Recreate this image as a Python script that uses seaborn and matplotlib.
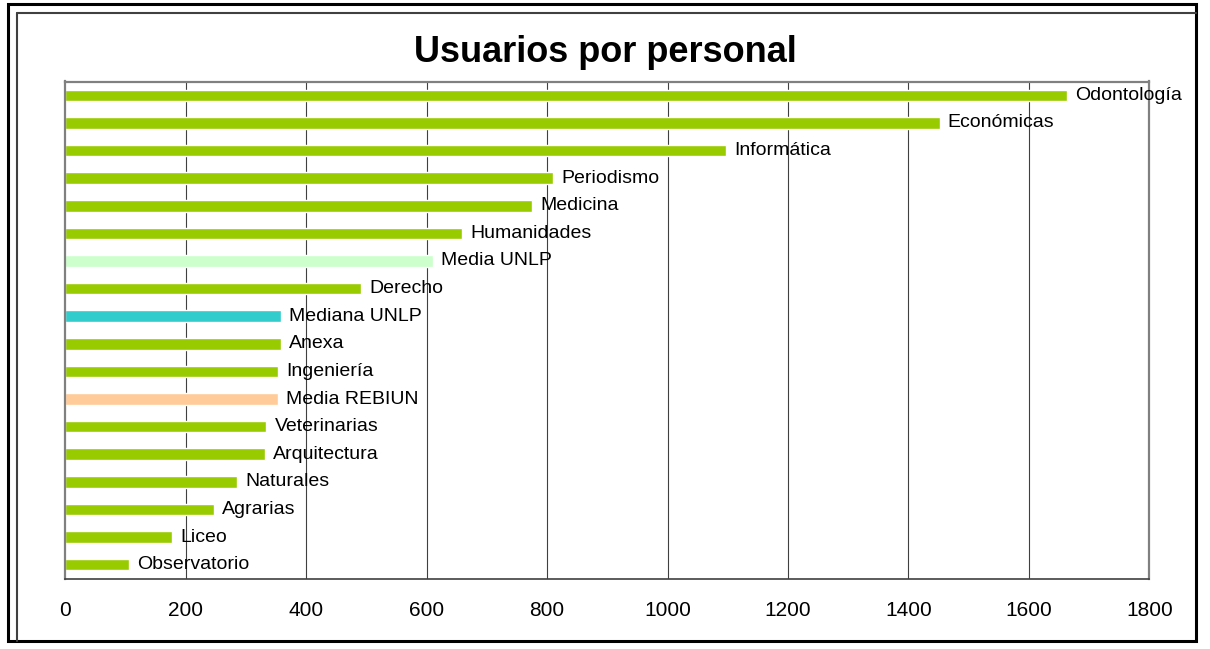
import matplotlib
matplotlib.use("Agg")
import matplotlib.pyplot as plt
import seaborn as sns
from matplotlib.lines import Line2D
from matplotlib.patches import Rectangle

categories = ["Odontología", "Económicas", "Informática", "Periodismo", "Medicina",
              "Humanidades", "Media UNLP", "Derecho", "Mediana UNLP", "Anexa",
              "Ingeniería", "Media REBIUN", "Veterinarias", "Arquitectura",
              "Naturales", "Agrarias", "Liceo", "Observatorio"]
values = [1664, 1452, 1097, 810, 775, 659, 610, 491, 358, 358,
          353, 353, 334, 332, 285, 247, 177, 106]
special_colors = {"Media UNLP": "#CCFFCC", "Mediana UNLP": "#33CCCC", "Media REBIUN": "#FFCC99"}
base_color = "#99CC00"
xticks = [0, 200, 400, 600, 800, 1000, 1200, 1400, 1600, 1800]

sns.set_theme(style="white")
plt.rcParams['font.family'] = ['Liberation Sans', 'DejaVu Sans']

W, H = 1210, 649
fig = plt.figure(figsize=(W / 100, H / 100), dpi=100)
ax = fig.add_axes([65.3 / W, 1 - 578.5 / H, (1149.3 - 65.3) / W, (578.5 - 81.5) / H])

palette = {c: special_colors.get(c, base_color) for c in categories}
sns.barplot(x=values, y=categories, hue=categories, palette=palette, legend=False,
            orient="h", width=0.42, ax=ax, saturation=1)

ax.set_xlim(0, 1800)
ax.set_ylim(len(categories) - 0.5, -0.5)
ax.set_xticks(xticks)
ax.set_xticklabels([str(t) for t in xticks], fontsize=15)
ax.set_yticks([])
ax.set_ylabel("")
ax.set_xlabel("")
ax.tick_params(axis="x", direction="out", length=5, width=1, color="#404040", pad=11, labelcolor="black")
ax.grid(False)
for t in xticks[1:]:
    ax.axvline(t, color="#404040", lw=0.8, zorder=0)

for side in ["top", "left", "right"]:
    ax.spines[side].set_visible(True)
    ax.spines[side].set_color("#808080")
    ax.spines[side].set_linewidth(1.6)
ax.spines["bottom"].set_color("#404040")
ax.spines["bottom"].set_linewidth(1.2)

for i, (c, v) in enumerate(zip(categories, values)):
    ax.annotate(c, xy=(v, i), xytext=(8, 0), textcoords="offset pixels",
                ha="left", va="center", fontsize=14, color="black")

fig.text(0.5, 1 - 53 / H, "Usuarios por personal", ha="center", va="center",
         fontsize=26, fontweight="bold", color="black")

# frames
fig.patches.append(Rectangle((7.5 / W, 1 - 641 / H), (1196 - 7.5) / W, (641 - 3.5) / H,
                             transform=fig.transFigure, fill=False, edgecolor="black", lw=2.2))
fig.lines.append(Line2D([17 / W, 17 / W], [1 - 641 / H, 1 - 13 / H], transform=fig.transFigure,
                        color="#404040", lw=1.5))
fig.lines.append(Line2D([17 / W, 1196 / W], [1 - 13 / H, 1 - 13 / H], transform=fig.transFigure,
                        color="#404040", lw=1.5))

fig.savefig("out.png", dpi=100, facecolor="white")
